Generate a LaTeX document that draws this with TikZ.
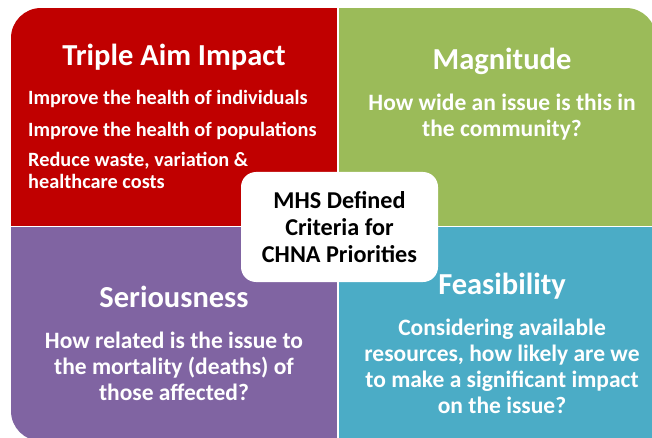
\documentclass[tikz,border=0pt]{standalone}
\usepackage{fontspec}
\setmainfont{Carlito}
\definecolor{aimred}{HTML}{C00000}
\definecolor{magngreen}{HTML}{9BBB59}
\definecolor{seriouspurple}{HTML}{8064A2}
\definecolor{feasblue}{HTML}{4BACC6}
\begin{document}
\begin{tikzpicture}[
    x = 1pt, y = -1pt,
    quadtitle/.style = { text=white, inner sep=0pt, anchor=base,
        font=\bfseries\fontsize{30.5}{36}\selectfont },
    quadtext/.style = { text=white, inner sep=0pt, anchor=base, align=center,
        font=\bfseries\fontsize{23.5}{26}\selectfont },
    aimitem/.style = { quadtext, anchor=base west, align=left,
        font=\bfseries\fontsize{20.3}{22}\selectfont },
    criteria/.style = { fill=white, rounded corners=15pt, inner sep=0pt,
        minimum width=197pt, minimum height=110pt, align=center,
        font=\bfseries\fontsize{24.2}{27}\selectfont }
    ]
\useasboundingbox (0,0) rectangle (652,438);
\fill[white] (0,0) rectangle (652,438);
%
\begin{scope}
\clip (656,441) -- (41,441) arc[start angle=90, end angle=180, radius=30]
    -- (11,38) arc[start angle=180, end angle=270, radius=30]
    -- (626,8) arc[start angle=270, end angle=360, radius=30] -- cycle;
\fill[aimred] (11,8) rectangle (337,225.5);
\fill[magngreen] (338.5,8) rectangle (656,225.5);
\fill[seriouspurple] (11,227) rectangle (337,441);
\fill[feasblue] (338.5,227) rectangle (656,441);
\end{scope}
%
% multi-line nodes sit on the baseline of their last line
\node[quadtitle] (TAI) at (174,66) {Triple Aim Impact};
\node[aimitem] (IHI) at (28,105) {Improve the health of individuals};
\node[aimitem] (IHP) at (28,137) {Improve the health of populations};
\node[aimitem] (RWV) at (28,189) {Reduce waste, variation \&\\healthcare costs};
%
\node[quadtitle] (MAG) at (502,70) {Magnitude};
\node[quadtext] (MAGQ) at (502,137) {How wide an issue is this in\\the community?};
%
\node[quadtitle] (SER) at (174,307) {Seriousness};
\node[quadtext] (SERQ) at (174,400) {How related is the issue to\\the mortality (deaths) of\\those affected?};
%
\node[quadtitle] (FEA) at (502,294) {Feasibility};
\node[quadtext] (FEAQ) at (502,413) {Considering available\\resources, how likely are we\\to make a significant impact\\on the issue?};
%
\node[criteria] (MHS) at (339.5,227) {MHS Defined\\Criteria for\\CHNA Priorities};
\end{tikzpicture}
\end{document}
